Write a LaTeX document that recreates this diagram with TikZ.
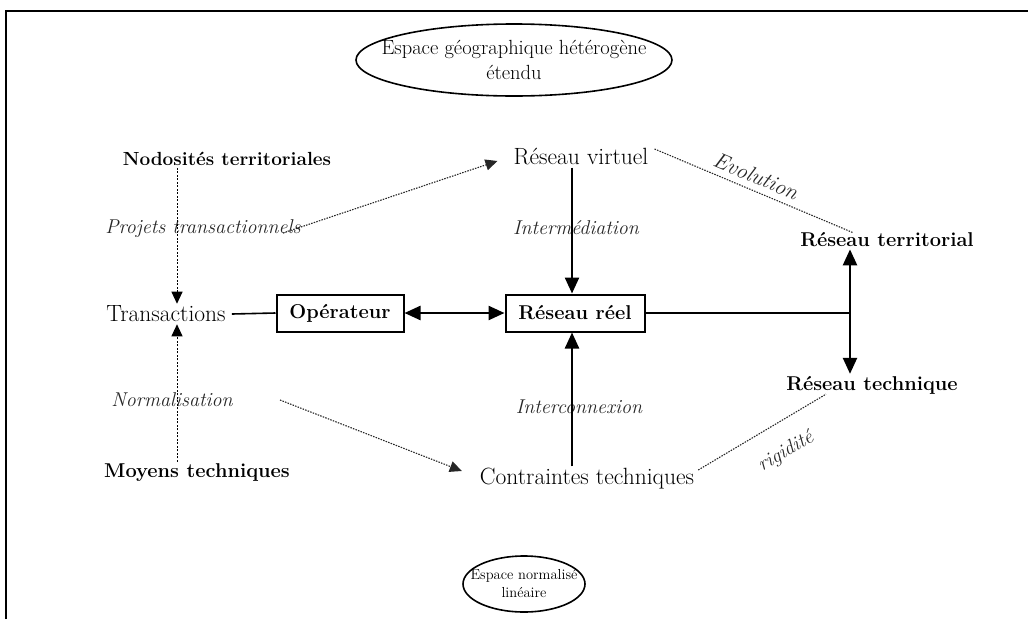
\documentclass[tikz,border=0pt]{standalone}
\usepackage{fontspec}
\usetikzlibrary{arrows.meta,shapes.geometric}
\begin{document}
\begin{tikzpicture}[x=1pt,y=-1pt,
  txt/.style={font=\fontsize{23.5}{26}\selectfont, inner sep=2pt},
  btxt/.style={font=\fontsize{20}{23}\selectfont\bfseries, inner sep=2pt},
  itxt/.style={font=\fontsize{20}{23}\selectfont\itshape, inner sep=1pt, text=black!85},
  box/.style={draw, line width=2pt, font=\fontsize{20}{23}\selectfont\bfseries, minimum height=37pt, inner xsep=4pt},
  etxt/.style={align=center, inner sep=0pt},
  eline/.style={line width=1.6pt},
  solidar/.style={line width=2.4pt, -{Triangle[length=16pt,width=14pt]}},
  dashar/.style={line width=1pt, dash pattern=on 2pt off 1.5pt, -{Triangle[length=12pt,width=11pt]}},
  dotl/.style={line width=1.1pt, dash pattern=on 1.5pt off 1.2pt, black!85},
  dotar/.style={dotl, -{Triangle[length=12pt,width=11pt]}}
]
\useasboundingbox (0,0) rectangle (1028,619);
% frame
\draw[line width=2pt] (6,619) -- (6,11) -- (1028,11);

% ellipses
\node[etxt, font=\fontsize{20.5}{25}\selectfont] (geo) at (514,60) {Espace géographique hétérogène\\étendu};
\draw[eline] (geo.center) ellipse (158 and 36);
\node[etxt, font=\fontsize{14.5}{18}\selectfont] (norm) at (524,584) {Espace normalisé\\linéaire};
\draw[eline] (norm.center) ellipse (61 and 28);

% nodes
\node[btxt, font=\fontsize{19}{22}\selectfont\bfseries] (nod) at (227,159) {Nodosités territoriales};
\node[txt] (virt) at (581,157) {Réseau virtuel};
\node[btxt] (terr) at (887,240) {Réseau territorial};
\node[txt] (trans) at (166,314) {Transactions};
\node[box, minimum width=127pt] (op) at (340,313) {Opérateur};
\node[box, minimum width=139pt] (reel) at (575,313) {Réseau réel};
\node[btxt] (tech) at (872,385) {Réseau technique};
\node[btxt] (moy) at (197,473) {Moyens techniques};
\node[txt] (cont) at (587,479) {Contraintes techniques};

% helper coordinates
\coordinate (lx) at (177,0);
\coordinate (vx) at (572,0);
\coordinate (rx) at (850,0);
\coordinate (s1) at (283,233);
\coordinate (s2) at (280,400);
\coordinate (j) at (850,313);

% labels
\node[itxt] (lproj) at (203,229) {Projets transactionnels};
\node[itxt] (lint) at (576,228) {Intermédiation};
\node[itxt] (lnorm) at (172,400) {Normalisation};
\node[itxt] (linter) at (579,407) {Interconnexion};
\node[itxt, font=\fontsize{22}{24}\selectfont\itshape, rotate=-23] (levo) at (756,176) {Evolution};
\node[itxt, rotate=30] (lrig) at (786,452) {rigidité};

% connectors
\draw[dashar] (nod.south -| lx) -- (trans.north -| lx);
\draw[dashar] (moy.north -| lx) -- (trans.south -| lx);
\draw[dotar] (s1) -- ([xshift=-14pt,yshift=-4pt]virt.west);
\draw[dotar] (s2) -- ([xshift=-16pt,yshift=8pt]cont.west);
\draw[dotl] ([xshift=4pt,yshift=8pt]virt.east) -- ([xshift=-34pt,yshift=-2pt]terr.north);
\draw[dotl] ([xshift=2pt,yshift=9pt]cont.east) -- ([xshift=-46pt,yshift=2pt]tech.south);
\draw[solidar] (virt.south -| vx) -- (reel.north -| vx);
\draw[solidar] (cont.north -| vx) -- (reel.south -| vx);
\draw[line width=1.6pt] ([xshift=4pt]trans.east) -- (op.west);
\draw[line width=2.4pt, {Triangle[length=16pt,width=14pt]}-{Triangle[length=16pt,width=14pt]}] (op.east) -- (reel.west);
\draw[line width=1.6pt] (reel.east) -- (j);
\draw[line width=2.4pt, {Triangle[length=16pt,width=14pt]}-{Triangle[length=16pt,width=14pt]}] (terr.south -| rx) -- (tech.north -| rx);
\end{tikzpicture}
\end{document}
